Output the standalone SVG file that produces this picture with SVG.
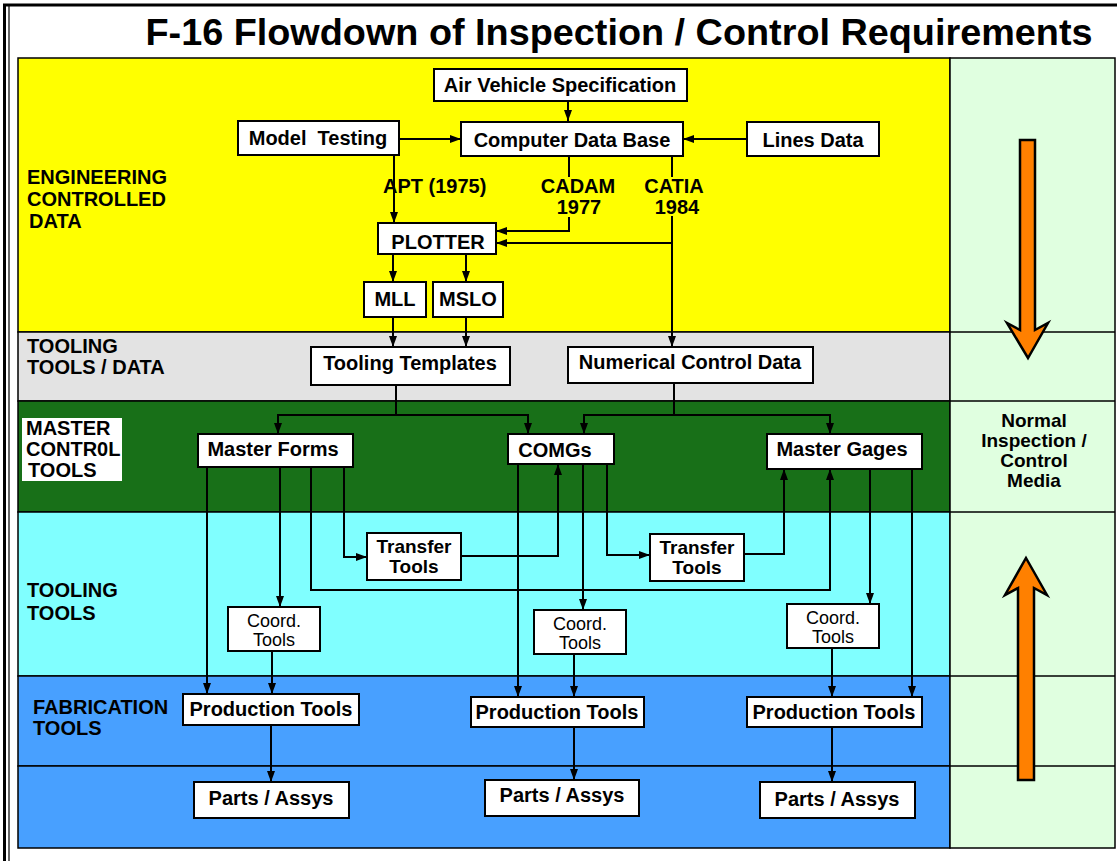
<svg xmlns="http://www.w3.org/2000/svg" width="1117" height="861" viewBox="0 0 1117 861">
<defs>
<marker id="ah" markerUnits="userSpaceOnUse" markerWidth="11" markerHeight="8" refX="11" refY="4" orient="auto">
<path d="M0,0 L11,4 L0,8 z" fill="#000"/>
</marker>
<style>
.box{fill:#fff;stroke:#000;stroke-width:2}
.t{font-family:"Liberation Sans",Arial,sans-serif;font-weight:bold;font-size:20px;text-anchor:middle;fill:#000}
.t2{font-family:"Liberation Sans",Arial,sans-serif;font-weight:bold;font-size:19px;text-anchor:middle;fill:#000}
.c{font-family:"Liberation Sans",Arial,sans-serif;font-weight:normal;font-size:18px;text-anchor:middle;fill:#000}
.lab{font-family:"Liberation Sans",Arial,sans-serif;font-weight:bold;font-size:20px;fill:#000}
.ln{fill:none;stroke:#000;stroke-width:2}
.band{stroke:#000;stroke-width:1.5}
.arr{fill:#ff8000;stroke:#000;stroke-width:2.5;stroke-linejoin:miter}
</style>
</defs>
<rect x="0" y="0" width="1117" height="861" fill="#fff"/>
<!-- frame -->
<path d="M1117,5 L4.5,5 L4.5,861" fill="none" stroke="#000" stroke-width="3"/>
<line x1="9" y1="6" x2="9" y2="861" stroke="#000" stroke-width="1.2"/>
<text x="619" y="45" style="font-family:'Liberation Sans',Arial,sans-serif;font-weight:bold;font-size:37.8px;text-anchor:middle">F-16 Flowdown of Inspection / Control Requirements</text>

<g id="bands">
<rect class="band" x="18" y="58" width="932" height="274" fill="#ffff00"/>
<rect class="band" x="18" y="332" width="932" height="69" fill="#e3e3e3"/>
<rect class="band" x="18" y="401" width="932" height="111" fill="#187018"/>
<rect class="band" x="18" y="512" width="932" height="164" fill="#80ffff"/>
<rect class="band" x="18" y="676" width="932" height="90" fill="#48a0ff"/>
<rect class="band" x="18" y="766" width="932" height="82" fill="#48a0ff"/>
<rect class="band" x="950" y="58" width="165" height="790" fill="#e0ffe0"/>
<line class="band" x1="950" y1="332" x2="1115" y2="332"/>
<line class="band" x1="950" y1="401" x2="1115" y2="401"/>
<line class="band" x1="950" y1="512" x2="1115" y2="512"/>
<line class="band" x1="950" y1="676" x2="1115" y2="676"/>
<line class="band" x1="950" y1="766" x2="1115" y2="766"/>
</g>

<g id="band-labels">
<text class="lab" x="27" y="184">ENGINEERING</text>
<text class="lab" x="27" y="206">CONTROLLED</text>
<text class="lab" x="29" y="228">DATA</text>
<text class="lab" x="27" y="353" fill="#111">TOOLING</text>
<text class="lab" x="27" y="374" fill="#111">TOOLS / DATA</text>
<rect x="22" y="418" width="100" height="63" fill="#fff"/>
<text class="lab" x="26" y="435">MASTER</text>
<text class="lab" x="26" y="456">CONTR0L</text>
<text class="lab" x="28" y="477">TOOLS</text>
<text class="lab" x="27" y="597">TOOLING</text>
<text class="lab" x="27" y="620">TOOLS</text>
<text class="lab" x="33" y="714">FABRICATION</text>
<text class="lab" x="33" y="735">TOOLS</text>
<text class="t2" x="1034" y="427">Normal</text>
<text class="t2" x="1034" y="447">Inspection /</text>
<text class="t2" x="1034" y="467">Control</text>
<text class="t2" x="1034" y="487">Media</text>
</g>

<g id="flow-arrows">
<polygon class="arr" points="1020,140 1035,140 1035,330 1048,323 1028,358 1007,323 1020,330"/>
<polygon class="arr" points="1026,558 1047,595 1034,588 1034,780 1018,780 1018,588 1005,595"/>
</g>

<g id="connectors">
<path class="ln" d="M568,101 V121" marker-end="url(#ah)"/>
<path class="ln" d="M399,139 H461" marker-end="url(#ah)"/>
<path class="ln" d="M747,139 H683" marker-end="url(#ah)"/>
<path class="ln" d="M394,155 V223" marker-end="url(#ah)"/>
<path class="ln" d="M569,156 V177"/>
<path class="ln" d="M569,217 V231 H496" marker-end="url(#ah)"/>
<path class="ln" d="M672,156 V177"/>
<path class="ln" d="M672,216 V347" marker-end="url(#ah)"/>
<path class="ln" d="M672,243 H496" marker-end="url(#ah)"/>
<path class="ln" d="M393,254 V282" marker-end="url(#ah)"/>
<path class="ln" d="M466,254 V282" marker-end="url(#ah)"/>
<path class="ln" d="M393,317 V347" marker-end="url(#ah)"/>
<path class="ln" d="M466,317 V347" marker-end="url(#ah)"/>
<path class="ln" d="M396,385 V415"/>
<path class="ln" d="M278,415 H528"/>
<path class="ln" d="M278,414 V434" marker-end="url(#ah)"/>
<path class="ln" d="M528,414 V434" marker-end="url(#ah)"/>
<path class="ln" d="M674,383 V415"/>
<path class="ln" d="M584,415 H830"/>
<path class="ln" d="M584,414 V434" marker-end="url(#ah)"/>
<path class="ln" d="M830,414 V434" marker-end="url(#ah)"/>
<path class="ln" d="M207,467 V694" marker-end="url(#ah)"/>
<path class="ln" d="M280,467 V607" marker-end="url(#ah)"/>
<path class="ln" d="M311,467 V590 H830 V469" marker-end="url(#ah)"/>
<path class="ln" d="M344,467 V557 H367" marker-end="url(#ah)"/>
<path class="ln" d="M461,556 H558 V464" marker-end="url(#ah)"/>
<path class="ln" d="M518,464 V697" marker-end="url(#ah)"/>
<path class="ln" d="M583,464 V610" marker-end="url(#ah)"/>
<path class="ln" d="M607,464 V555 H650" marker-end="url(#ah)"/>
<path class="ln" d="M744,554 H784 V469" marker-end="url(#ah)"/>
<path class="ln" d="M870,469 V604" marker-end="url(#ah)"/>
<path class="ln" d="M912,469 V697" marker-end="url(#ah)"/>
<path class="ln" d="M272,651 V694" marker-end="url(#ah)"/>
<path class="ln" d="M574,654 V697" marker-end="url(#ah)"/>
<path class="ln" d="M832,648 V697" marker-end="url(#ah)"/>
<path class="ln" d="M271,725 V782" marker-end="url(#ah)"/>
<path class="ln" d="M574,727 V780" marker-end="url(#ah)"/>
<path class="ln" d="M832,727 V782" marker-end="url(#ah)"/>
<text class="lab" x="383" y="193">APT (1975)</text>
<text class="t" x="578" y="193">CADAM</text>
<text class="t" x="579" y="214">1977</text>
<text class="t" x="674" y="193">CATIA</text>
<text class="t" x="677" y="214">1984</text>
</g>

<g id="n-avs"><rect class="box" x="434" y="69" width="253" height="32"/><text class="t" x="560" y="92">Air Vehicle Specification</text></g>
<g id="n-model"><rect class="box" x="238" y="121" width="161" height="34"/><text class="t" x="318" y="145" xml:space="preserve">Model  Testing</text></g>
<g id="n-cdb"><rect class="box" x="461" y="122" width="222" height="34"/><text class="t" x="572" y="147">Computer Data Base</text></g>
<g id="n-lines"><rect class="box" x="747" y="122" width="132" height="34"/><text class="t" x="813" y="147">Lines Data</text></g>
<g id="n-plotter"><rect class="box" x="378" y="223" width="118" height="31"/><text class="t" x="438" y="249">PLOTTER</text></g>
<g id="n-mll"><rect class="box" x="364" y="282" width="62" height="35"/><text class="t" x="395" y="306">MLL</text></g>
<g id="n-mslo"><rect class="box" x="433" y="282" width="70" height="35"/><text class="t" x="468" y="306">MSLO</text></g>
<g id="n-tt"><rect class="box" x="311" y="347" width="199" height="38"/><text class="t" x="410" y="370">Tooling Templates</text></g>
<g id="n-ncd"><rect class="box" x="568" y="347" width="245" height="36"/><text class="t" x="690" y="369">Numerical Control Data</text></g>
<g id="n-mf"><rect class="box" x="198" y="434" width="155" height="33"/><text class="t" x="273" y="456">Master Forms</text></g>
<g id="n-comgs"><rect class="box" x="508" y="434" width="106" height="30"/><text class="t" x="555" y="457">COMGs</text></g>
<g id="n-mg"><rect class="box" x="767" y="434" width="155" height="35"/><text class="t" x="842" y="456">Master Gages</text></g>
<g id="n-t1"><rect class="box" x="367" y="533" width="94" height="47"/><text class="t2" x="414" y="553">Transfer</text><text class="t2" x="414" y="573">Tools</text></g>
<g id="n-t2"><rect class="box" x="650" y="534" width="94" height="47"/><text class="t2" x="697" y="554">Transfer</text><text class="t2" x="697" y="574">Tools</text></g>
<g id="n-c1"><rect class="box" x="228" y="607" width="92" height="44"/><text class="c" x="274" y="627">Coord.</text><text class="c" x="274" y="646">Tools</text></g>
<g id="n-c2"><rect class="box" x="534" y="610" width="92" height="44"/><text class="c" x="580" y="630">Coord.</text><text class="c" x="580" y="649">Tools</text></g>
<g id="n-c3"><rect class="box" x="787" y="604" width="92" height="44"/><text class="c" x="833" y="624">Coord.</text><text class="c" x="833" y="643">Tools</text></g>
<g id="n-p1"><rect class="box" x="183" y="694" width="176" height="31"/><text class="t" x="271" y="716">Production Tools</text></g>
<g id="n-p2"><rect class="box" x="471" y="697" width="173" height="30"/><text class="t" x="557" y="719">Production Tools</text></g>
<g id="n-p3"><rect class="box" x="747" y="697" width="175" height="30"/><text class="t" x="834" y="719">Production Tools</text></g>
<g id="n-a1"><rect class="box" x="194" y="782" width="155" height="36"/><text class="t" x="271" y="805">Parts / Assys</text></g>
<g id="n-a2"><rect class="box" x="485" y="780" width="154" height="36"/><text class="t" x="562" y="802">Parts / Assys</text></g>
<g id="n-a3"><rect class="box" x="760" y="782" width="155" height="36"/><text class="t" x="837" y="806">Parts / Assys</text></g>
</svg>
